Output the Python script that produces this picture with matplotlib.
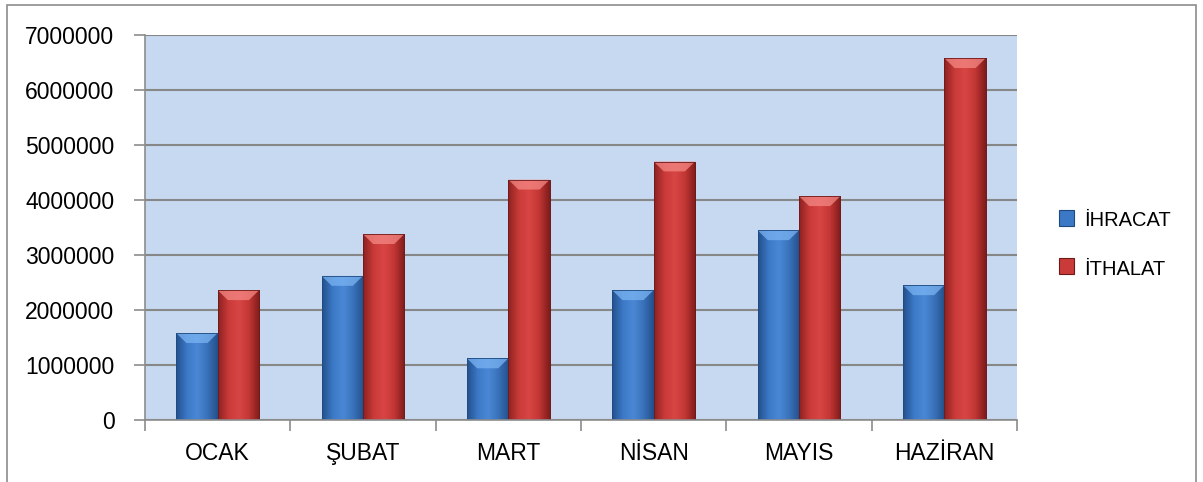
import numpy as np
import matplotlib
matplotlib.use("Agg")
import matplotlib.pyplot as plt
import matplotlib.patches as mpatches
from matplotlib.colors import LinearSegmentedColormap
from matplotlib.legend_handler import HandlerPatch

months = ["OCAK", "ŞUBAT", "MART", "NİSAN", "MAYIS", "HAZİRAN"]
ihracat = [1580000, 2620000, 1120000, 2360000, 3450000, 2450000]
ithalat = [2360000, 3380000, 4370000, 4700000, 4070000, 6580000]
series_names = ["İHRACAT", "İTHALAT"]
yticks = [0, 1000000, 2000000, 3000000, 4000000, 5000000, 6000000, 7000000]

plt.rcParams["font.family"] = ["Liberation Sans", "DejaVu Sans"]

fig = plt.figure(figsize=(12.03, 4.82), dpi=100)
ax = fig.add_axes([145 / 1203, 62 / 482, 872 / 1203, 385 / 482])
ax.set_facecolor("#c6d9f0")

# figure frame
fig.patches.append(mpatches.Rectangle((7 / 1203, -0.05), 1189 / 1203, 1.04, transform=fig.transFigure,
                                      fill=False, edgecolor="#8c8c8c", linewidth=1.2, zorder=0))

# colours: gradient across bar, top bevel, outline
styles = {
    "blue": dict(cmap=LinearSegmentedColormap.from_list("b", ["#23508c", "#3b78c6", "#4a88d6", "#3a72bb", "#23508c"]),
                 bevel="#7ab4f2", edge="#1f4a80"),
    "red": dict(cmap=LinearSegmentedColormap.from_list("r", ["#8e2222", "#c93a38", "#d84644", "#c23634", "#7e1c1c"]),
                bevel="#f48884", edge="#6e1a1a"),
}

x = np.arange(len(months))
w = 0.285
grad = np.linspace(0, 1, 64).reshape(1, -1)


def fancy_bars(xpos, vals, st):
    bars = ax.bar(xpos, vals, width=w, align="edge", color=st["cmap"](0.5), edgecolor=st["edge"],
                  linewidth=0.6, zorder=3)
    for b in bars:
        x0, y0 = b.get_x(), b.get_y()
        bw, bh = b.get_width(), b.get_height()
        im = ax.imshow(grad, cmap=st["cmap"], extent=(x0, x0 + bw, y0, y0 + bh), aspect="auto",
                       zorder=3.5, interpolation="bicubic")
        im.set_clip_path(b)
        bev = 180000
        ins = 0.07
        ax.add_patch(mpatches.Polygon([(x0, y0 + bh), (x0 + bw, y0 + bh), (x0 + bw - ins, y0 + bh - bev),
                                       (x0 + ins, y0 + bh - bev)], closed=True, facecolor=st["bevel"],
                                      edgecolor="none", alpha=0.75, zorder=4))
        ax.add_patch(mpatches.Rectangle((x0, y0), bw, bh, fill=False, edgecolor=st["edge"],
                                        linewidth=0.6, zorder=4.5))
    return bars


fancy_bars(x + 0.5 - w, ihracat, styles["blue"])
fancy_bars(x + 0.5, ithalat, styles["red"])

ax.set_xlim(0, len(months))
ax.set_ylim(0, 7000000)
ax.set_yticks(yticks)
ax.set_yticklabels([str(v) for v in yticks])
ax.set_xticks(x + 0.5)
ax.set_xticklabels(months)
ax.set_xticks(np.arange(len(months) + 1), minor=True)
ax.tick_params(axis="x", which="major", length=0, pad=16, labelsize=16.5)
ax.tick_params(axis="x", which="minor", length=8, width=1.2, color="#8c8c8c", direction="out")
ax.tick_params(axis="y", length=8, width=1.2, color="#8c8c8c", direction="out", pad=14, labelsize=16.5)

ax.yaxis.grid(True, color="#878787", linewidth=1.5, zorder=1)
ax.set_axisbelow(True)
for s in ["top", "right"]:
    ax.spines[s].set_visible(False)
for s in ["left", "bottom"]:
    ax.spines[s].set_color("#8c8c8c")
    ax.spines[s].set_linewidth(1.2)
    ax.spines[s].set_zorder(5)


class SquareHandler(HandlerPatch):
    def create_artists(self, legend, orig_handle, xdescent, ydescent, width, height, fontsize, trans):
        s = min(width, height) * 1.0
        p = mpatches.Rectangle((xdescent + width - s, ydescent + (height - s) / 2), s, s,
                               facecolor=orig_handle.get_facecolor(), edgecolor=orig_handle.get_edgecolor(),
                               linewidth=0.8, transform=trans)
        return [p]


handles = [mpatches.Patch(facecolor="#3b78c6", edgecolor="#1f4a80"),
           mpatches.Patch(facecolor="#c93a38", edgecolor="#6e1a1a")]
leg = fig.legend(handles, series_names, loc="center left", bbox_to_anchor=(1040 / 1203, 1 - 245 / 482),
                 frameon=False, fontsize=14.5, handler_map={mpatches.Patch: SquareHandler()},
                 handlelength=0.8, handleheight=0.8, handletextpad=0.5, labelspacing=1.45)

fig.savefig("out.png", dpi=100)
